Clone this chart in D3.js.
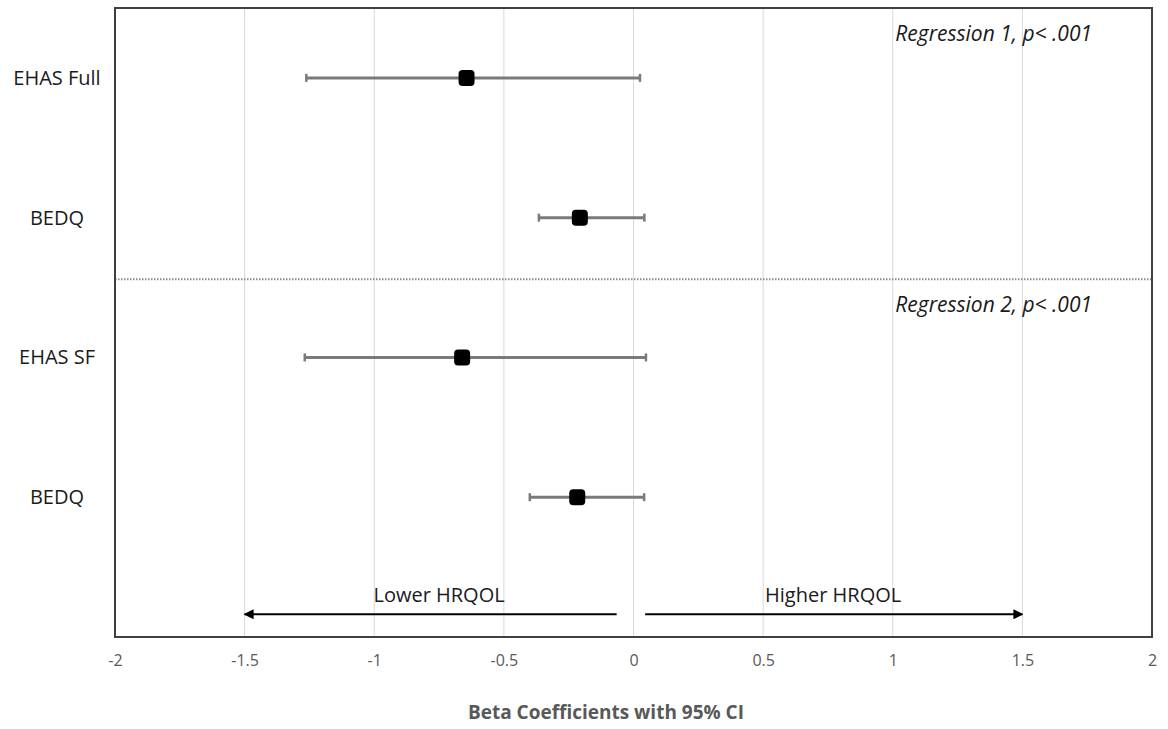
<!DOCTYPE html>
<html lang="en">
<head>
    <meta charset="UTF-8">
    <title>Beta coefficients</title>
    <style>
        body { margin: 0; background: #fff; }
        text { font-family: "Open Sans", sans-serif; }
    </style>
</head>
<body>
    <div id="chart"></div>
    <script src="https://d3js.org/d3.v7.min.js"></script>
    <script>
        // values
        const labels = ["EHAS Full", "BEDQ", "EHAS SF", "BEDQ"];
        const rows = [1, 3, 5, 7];
        const betas = [-0.644, -0.207, -0.661, -0.217];
        const lower = [-1.262, -0.365, -1.268, -0.400];
        const upper = [0.025, 0.042, 0.048, 0.041];
        const xTicks = [-2, -1.5, -1, -0.5, 0, 0.5, 1, 1.5, 2];
        const notes = ["Regression 1, p< .001", "Regression 2, p< .001"];
        const noteRows = [0.36, 4.24];

        const W = 1168, H = 729;
        const margin = { top: 8, right: 16, bottom: 92, left: 115 };
        const w = W - margin.left - margin.right;
        const h = H - margin.top - margin.bottom;

        const svg = d3.select("#chart").append("svg")
            .attr("width", W).attr("height", H);

        const defs = svg.append("defs");
        defs.append("marker")
            .attr("id", "head")
            .attr("viewBox", "0 0 10 10")
            .attr("refX", 9).attr("refY", 5)
            .attr("markerWidth", 5).attr("markerHeight", 5)
            .attr("orient", "auto-start-reverse")
            .append("path").attr("d", "M0,0L10,5L0,10Z").attr("fill", "#000");

        const g = svg.append("g").attr("transform", `translate(${margin.left},${margin.top})`);

        const x = d3.scaleLinear().domain([-2, 2]).range([0, w]);
        const y = d3.scaleLinear().domain([0, 9]).range([0, h]);

        // vertical gridlines
        g.selectAll(".grid").data(xTicks).join("line")
            .attr("x1", d => x(d)).attr("x2", d => x(d))
            .attr("y1", 0).attr("y2", h)
            .attr("stroke", "#d9d9d9").attr("stroke-width", 1);

        // x axis labels (plain hyphen for negatives, like the original)
        const xAxis = g.append("g")
            .attr("transform", `translate(0,${h})`)
            .call(d3.axisBottom(x).tickValues(xTicks).tickSize(0).tickPadding(18)
                .tickFormat(d => String(d)));
        xAxis.select(".domain").remove();
        xAxis.selectAll("text")
            .attr("fill", "#595959")
            .style("font-size", "16px");

        // divider between the two regressions
        g.append("line")
            .attr("x1", 0).attr("x2", w)
            .attr("y1", y(3.88)).attr("y2", y(3.88))
            .attr("stroke", "#8c8c8c").attr("stroke-width", 2)
            .attr("stroke-dasharray", "1.5,1.5");

        // regression notes
        g.selectAll(".note").data(notes).join("text")
            .attr("x", x(1.01))
            .attr("y", (d, i) => y(noteRows[i]))
            .attr("dy", "0.35em")
            .style("font-size", "21px")
            .style("font-style", "italic")
            .attr("fill", "#1a1a1a")
            .text(d => d);

        // row labels
        svg.selectAll(".lab").data(labels).join("text")
            .attr("x", 57)
            .attr("y", (d, i) => margin.top + y(rows[i]))
            .attr("dy", "0.35em")
            .attr("text-anchor", "middle")
            .style("font-size", "20px")
            .attr("fill", "#1a1a1a")
            .text(d => d);

        // confidence intervals
        const ci = g.selectAll(".ci").data(labels).join("g")
            .attr("transform", (d, i) => `translate(0,${y(rows[i])})`);
        ci.append("line")
            .attr("x1", (d, i) => x(lower[i])).attr("x2", (d, i) => x(upper[i]))
            .attr("stroke", "#7a7a7a").attr("stroke-width", 3);
        ci.append("line")
            .attr("x1", (d, i) => x(lower[i])).attr("x2", (d, i) => x(lower[i]))
            .attr("y1", -4).attr("y2", 4)
            .attr("stroke", "#7a7a7a").attr("stroke-width", 2.5);
        ci.append("line")
            .attr("x1", (d, i) => x(upper[i])).attr("x2", (d, i) => x(upper[i]))
            .attr("y1", -4).attr("y2", 4)
            .attr("stroke", "#7a7a7a").attr("stroke-width", 2.5);
        ci.append("rect")
            .attr("x", (d, i) => x(betas[i]) - 8).attr("y", -8)
            .attr("width", 16).attr("height", 16)
            .attr("rx", 4).attr("ry", 4)
            .attr("fill", "#000");

        // direction arrows
        g.append("line")
            .attr("x1", x(-0.065)).attr("x2", x(-1.5))
            .attr("y1", y(8.675)).attr("y2", y(8.675))
            .attr("stroke", "#000").attr("stroke-width", 2)
            .attr("marker-end", "url(#head)");
        g.append("line")
            .attr("x1", x(0.045)).attr("x2", x(1.5))
            .attr("y1", y(8.675)).attr("y2", y(8.675))
            .attr("stroke", "#000").attr("stroke-width", 2)
            .attr("marker-end", "url(#head)");
        g.append("text")
            .attr("x", x(-0.75)).attr("y", y(8.4)).attr("dy", "0.35em")
            .attr("text-anchor", "middle")
            .style("font-size", "20px").attr("fill", "#1a1a1a")
            .text("Lower HRQOL");
        g.append("text")
            .attr("x", x(0.77)).attr("y", y(8.4)).attr("dy", "0.35em")
            .attr("text-anchor", "middle")
            .style("font-size", "20px").attr("fill", "#1a1a1a")
            .text("Higher HRQOL");

        // frame
        g.append("rect")
            .attr("x", 0).attr("y", 0).attr("width", w).attr("height", h)
            .attr("fill", "none").attr("stroke", "#404040").attr("stroke-width", 2);

        // axis title
        svg.append("text")
            .attr("x", 606).attr("y", 712).attr("dy", "0.35em")
            .attr("text-anchor", "middle")
            .style("font-size", "19px").style("font-weight", "bold")
            .attr("fill", "#595959")
            .text("Beta Coefficients with 95% CI");
    </script>
</body>
</html>
